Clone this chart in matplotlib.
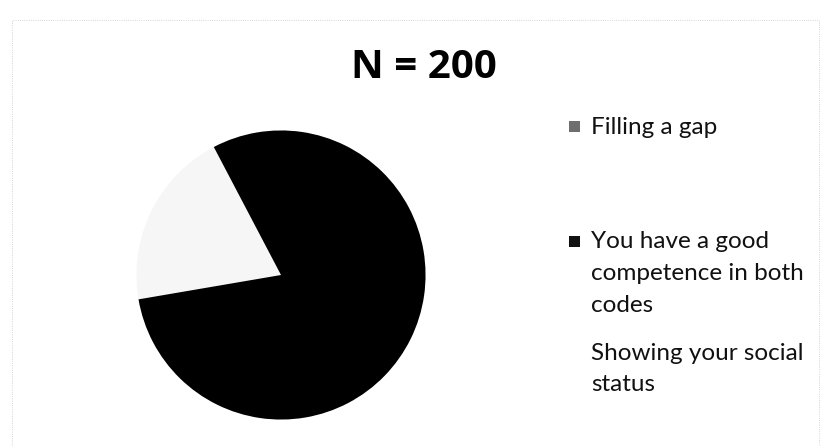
import matplotlib
matplotlib.use("Agg")
import matplotlib.pyplot as plt
from matplotlib.patches import Rectangle

# Data (N = 200 respondents)
labels = ["Filling a gap", "You have a good\ncompetence in both\ncodes", "Showing your social\nstatus"]
counts = [40, 160, 0]
wedge_colors = ["#f6f6f6", "#000000", "#ffffff"]
marker_colors = ["#6e6e6e", "#111111", None]
title = "N = 200"

W, H = 827, 446
fig = plt.figure(figsize=(W / 100, H / 100), dpi=100, facecolor="white")

# pie axes placed in pixel terms: centre (281, 275), radius 146
cx, cy, r = 281, 275, 146
ax = fig.add_axes([(cx - r) / W, (H - cy - r) / H, 2 * r / W, 2 * r / H])
ax.pie(counts, colors=wedge_colors, startangle=189.7, counterclock=False,
       radius=1.0, wedgeprops=dict(linewidth=0))
ax.set_xlim(-1.01, 1.01)
ax.set_ylim(-1.01, 1.01)
ax.set_aspect("equal")
ax.axis("off")

fig.text(424 / W, 1 - 67 / H, title, ha="center", va="center",
         fontsize=29, fontweight="bold", family="Open Sans")

# legend drawn by hand so the spacing matches the original
rows_y = [127, 242, 353]
text_x = 591
line_h = 31.5
for lab, col, y in zip(labels, marker_colors, rows_y):
    if col is not None:
        fig.add_artist(Rectangle((569 / W, 1 - (y + 5) / H), 11 / W, 11 / H,
                                 transform=fig.transFigure, facecolor=col,
                                 edgecolor="none"))
    for i, line in enumerate(lab.split("\n")):
        fig.text(text_x / W, 1 - (y + i * line_h) / H, line, ha="left",
                 va="center", fontsize=17.5, family="Lato", color="#111111")

# faint dotted frame left by the scan
fig.add_artist(Rectangle((12 / W, -0.01), (W - 20) / W, 1 - 20 / H + 0.01,
                         transform=fig.transFigure, fill=False,
                         edgecolor="#c8c8c8", linestyle=":", linewidth=0.6))

fig.savefig("out.png", dpi=100, facecolor="white")
